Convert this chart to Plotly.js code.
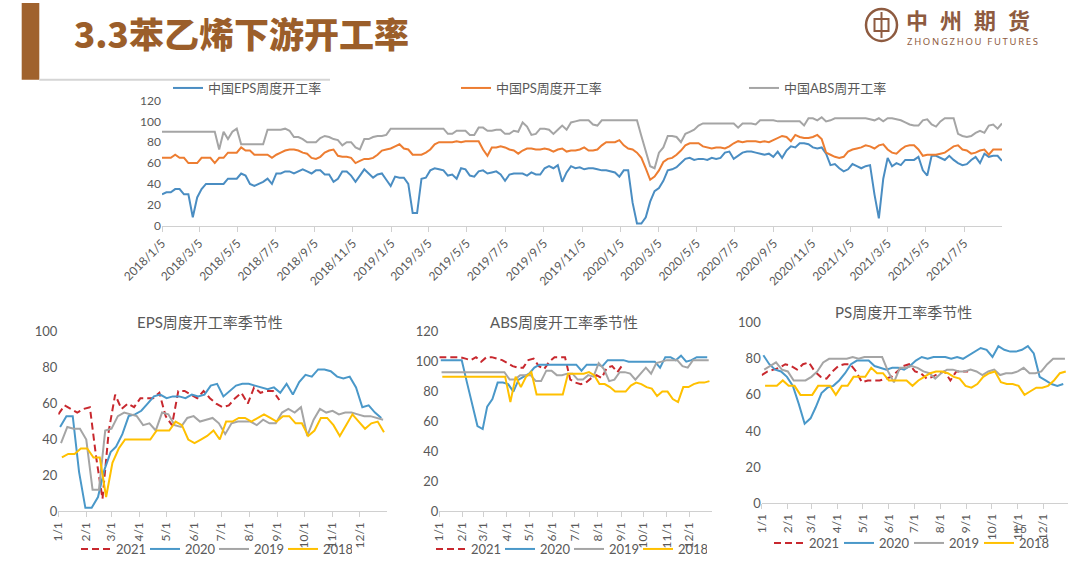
<!DOCTYPE html>
<html><head><meta charset="utf-8">
<script src="https://cdn.plot.ly/plotly-3.0.1.min.js"></script>
<style>html,body{margin:0;padding:0;background:#fff;}#chart{width:1080px;height:564px;}</style>
</head><body><div id="chart"></div>
<script>
// ---- data (weekly) ----
const eps2018 = [30,32,32,35,35,30,30,8,27,35, 40,40,40,40,40,45,45,45,50,48, 40,38,40,42,45,40,50,50,52,52, 50,52,54,52,50,53,53,49,49,42, 45,52,52,48,42,48,54,50,46,49, 50,44];
const eps2019 = [38,47,46,46,40,12,12,45,46,53, 55,54,53,48,49,45,55,54,48,47, 52,53,50,51,52,49,43,49,50,50, 50,48,51,49,49,55,57,55,58,42, 51,57,55,56,54,55,55,54,53,53, 52,51];
const eps2020 = [47,53,53,22,2,2,8,23,33,36, 43,53,54,56,60,64,65,63,64,64, 63,65,64,65,70,71,64,67,70,71, 71,70,69,68,69,66,71,65,72,76, 75,79,79,78,75,74,75,69,58,59, 55,52];
const eps2021 = [54,59,57,55,57,58,30,7,45,65, 57,60,58,63,63,63,66,53,48,67, 67,65,63,67,63,60,58,59,63,66, 60,69,66,67,67,62];

const abs2018 = [90,90,90,90,90,90,90,90,90,90, 90,90,90,73,90,83,90,93,78,78, 78,78,78,78,92,92,92,92,93,91, 85,85,83,80,80,80,84,86,85,83, 82,77,80,80,75,73,83,83,85,86, 86,87];
const abs2019 = [93,93,93,93,93,93,93,93,93,93, 93,93,93,88,88,91,91,91,87,87, 94,94,91,91,92,92,88,88,91,90, 99,95,87,88,93,93,92,88,92,96, 92,99,100,101,101,101,97,96,101,101, 101,101];
const abs2020 = [101,101,101,101,101,86,71,57,55,70, 75,86,86,85,80,88,90,92,96,98, 98,98,98,98,98,98,98,94,98,98, 98,97,101,101,101,101,100,100,100,100, 100,100,96,103,103,101,104,100,101,103, 103,103];
const abs2021 = [103,103,103,103,103,102,101,103,100,103, 103,102,101,99,97,96,96,101,102,97, 95,100,103,103,103,88,86,85,86,89, 91,89,96,97,93,98];

const ps2018 = [65,65,65,68,65,65,60,60,60,65, 65,65,60,65,65,70,70,70,75,72, 72,68,68,68,68,65,68,70,72,73, 73,72,70,69,65,64,66,70,72,73, 67,66,66,65,60,62,64,64,65,68, 72,73];
const ps2019 = [74,76,78,74,73,68,68,68,70,73, 78,80,80,80,80,81,80,81,81,81, 81,73,67,75,75,76,75,73,72,69, 72,74,74,73,73,74,73,71,73,74, 71,72,72,73,75,72,72,73,77,80, 80,80];
const ps2020 = [82,77,74,73,70,65,55,44,47,53, 61,64,65,68,72,77,79,79,79,76, 75,74,75,75,74,76,79,81,80,81, 81,81,80,81,80,82,84,86,85,81, 87,85,84,84,85,87,83,70,68,66, 65,66];
const ps2021 = [71,73,74,75,77,76,74,77,78,73, 70,69,73,76,77,77,73,67,68,68, 68,69,70,73,76,77,73,72,69,70, 72,73,68,73,73,73];

const years = ['2021','2020','2019','2018'];
const firstWeek = {'2018':'2018-01-05','2019':'2019-01-04','2020':'2020-01-03','2021':'2021-01-01'};
const topTickLabels = ['2018/1/5','2018/3/5','2018/5/5','2018/7/5','2018/9/5','2018/11/5',
  '2019/1/5','2019/3/5','2019/5/5','2019/7/5','2019/9/5','2019/11/5',
  '2020/1/5','2020/3/5','2020/5/5','2020/7/5','2020/9/5','2020/11/5',
  '2021/1/5','2021/3/5','2021/5/5','2021/7/5'];
const seasonTickLabels = ['1/1','2/1','3/1','4/1','5/1','6/1','7/1','8/1','9/1','10/1','11/1','12/1'];
const topNames = ['中国EPS周度开工率','中国PS周度开工率','中国ABS周开工率'];
const seasonTitles = ['EPS周度开工率季节性','ABS周度开工率季节性','PS周度开工率季节性'];

// ---- helpers ----
function weekly(start, n){
  const t0 = Date.parse(start + 'T00:00:00Z');
  return Array.from({length:n}, (_, i) => new Date(t0 + i*7*864e5).toISOString().slice(0,10));
}
function pad(n){ return String(n).padStart(2,'0'); }
function labelToISO(lbl){ const p = lbl.split('/'); return p[0] + '-' + pad(p[1]) + '-' + pad(p[2]); }
function seasonISO(lbl){ const p = lbl.split('/'); return '2021-' + pad(p[0]) + '-' + pad(p[1]); }
const W = 1080, H = 564;
const px = x => x / W, py = y => 1 - y / H;

const data = {
  eps: {'2018':eps2018,'2019':eps2019,'2020':eps2020,'2021':eps2021},
  abs: {'2018':abs2018,'2019':abs2019,'2020':abs2020,'2021':abs2021},
  ps:  {'2018':ps2018,'2019':ps2019,'2020':ps2020,'2021':ps2021}
};
function concatDates(prod){ return ['2018','2019','2020','2021'].flatMap(y => weekly(firstWeek[y], data[prod][y].length)); }
function concatVals(prod){ return ['2018','2019','2020','2021'].flatMap(y => data[prod][y]); }

const FONT = "Lato, 'Noto Sans CJK SC', sans-serif";
const TXT = '#595959';
const topColors = {eps:'#4A8DC2', ps:'#ED7D31', abs:'#A5A5A5'};
const yearStyle = {
  '2021': {color:'#C8282E', width:2, dash:'7px,4px'},
  '2020': {color:'#4A98C9', width:2},
  '2019': {color:'#A5A5A5', width:2},
  '2018': {color:'#FFC000', width:2}
};

const traces = [];
[['eps',0],['ps',1],['abs',2]].forEach(([prod, k]) => {
  traces.push({type:'scatter', mode:'lines', x:concatDates(prod), y:concatVals(prod), name:topNames[k],
    xaxis:'x', yaxis:'y', legend:'legend', line:{color:topColors[prod], width:2}, hoverinfo:'skip'});
});
[['eps','x2','y2','legend2'],['abs','x3','y3','legend3'],['ps','x4','y4','legend4']].forEach(([prod, xa, ya, lg]) => {
  years.forEach(y => {
    const dates = weekly(firstWeek[y], data[prod][y].length).map(d => '2021' + d.slice(4));
    traces.push({type:'scatter', mode:'lines', x:dates, y:data[prod][y], name:y, xaxis:xa, yaxis:ya,
      legend:lg, line:yearStyle[y], hoverinfo:'skip'});
  });
});

const seasonTickVals = seasonTickLabels.map(seasonISO);
function seasonX(d0, d1){
  return {domain:[px(d0), px(d1)], type:'date', range:['2021-01-01','2021-12-31'], tickmode:'array',
    tickvals:seasonTickVals, ticktext:seasonTickLabels, tickangle:-90, ticks:'outside', ticklen:5,
    tickcolor:'#D0D0D0', showline:true, linecolor:'#D0D0D0', linewidth:1, showgrid:false, zeroline:false,
    tickfont:{family:FONT, size:12, color:TXT}};
}
function seasonY(y0, y1, top){
  return {domain:[py(y0), py(y1)], range:[0, top], tickmode:'linear', tick0:0, dtick:20, showgrid:false,
    zeroline:false, showline:false, ticks:'', tickfont:{family:FONT, size:13, color:TXT}};
}
function legendAt(x, y, size, ew){
  return {x:px(x), y:py(y), xanchor:'left', yanchor:'middle', orientation:'h', bgcolor:'rgba(0,0,0,0)',
    borderwidth:0, itemwidth:30, entrywidth:ew, entrywidthmode:'pixels', font:{family:FONT, size:size, color:TXT},
    itemclick:false, itemdoubleclick:false};
}

const brown = '#9B5E2A', logoBrown = '#8E5B40';
const layout = {
  width:W, height:H, margin:{l:0,r:0,t:0,b:0}, paper_bgcolor:'#fff', plot_bgcolor:'rgba(0,0,0,0)',
  font:{family:FONT, color:TXT},
  xaxis:{domain:[px(162), px(1002)], anchor:'y', type:'date', range:['2018-01-05','2021-09-03'], tickmode:'array',
    tickvals:topTickLabels.map(labelToISO), ticktext:topTickLabels, tickangle:-45, ticks:'outside', ticklen:5,
    tickcolor:'#D0D0D0', showline:true, linecolor:'#D0D0D0', linewidth:1, showgrid:false, zeroline:false,
    tickfont:{family:FONT, size:12, color:TXT}},
  yaxis:{domain:[py(226), py(100.7)], anchor:'x', range:[0,120], tickmode:'linear', tick0:0, dtick:20,
    showgrid:false, zeroline:false, showline:false, ticks:'', tickfont:{family:FONT, size:12, color:TXT}},
  xaxis2:Object.assign(seasonX(58.3, 386.7), {anchor:'y2'}),
  yaxis2:Object.assign(seasonY(512.3, 332.3, 100), {anchor:'x2'}),
  xaxis3:Object.assign(seasonX(439.3, 711.7), {anchor:'y3'}),
  yaxis3:Object.assign(seasonY(512.3, 332.3, 120), {anchor:'x3'}),
  xaxis4:Object.assign(seasonX(761.7, 1068.3), {anchor:'y4'}),
  yaxis4:Object.assign(seasonY(504, 323.3, 100), {anchor:'x4'}),
  legend:legendAt(168, 88, 13, 243),
  legend2:legendAt(76, 550, 13, 24),
  legend3:legendAt(431, 550, 13, 24),
  legend4:legendAt(769, 543, 13, 25),
  shapes:[
    {type:'rect', xref:'paper', yref:'paper', x0:px(21.7), x1:px(39.3), y0:py(3), y1:py(80), fillcolor:'#A0622D', line:{width:0}},
    {type:'line', xref:'paper', yref:'paper', x0:px(39.3), x1:px(330), y0:py(80), y1:py(80), line:{color:'#D5D5D5', width:2}},
    {type:'circle', xref:'paper', yref:'paper', x0:px(866), x1:px(897), y0:py(41), y1:py(9), line:{color:logoBrown, width:2.5}},
    {type:'rect', xref:'paper', yref:'paper', x0:px(874.5), x1:px(888.5), y0:py(31), y1:py(19), line:{color:logoBrown, width:2}},
    {type:'line', xref:'paper', yref:'paper', x0:px(881.5), x1:px(881.5), y0:py(38), y1:py(12), line:{color:logoBrown, width:2}}
  ],
  annotations:[
    {xref:'paper', yref:'paper', x:px(72), y:py(33), xanchor:'left', yanchor:'middle', showarrow:false,
      text:'3.3苯乙烯下游开工率', font:{family:"'Noto Sans CJK SC', sans-serif", size:35, weight:900, color:brown}},
    {xref:'paper', yref:'paper', x:px(904), y:py(19), xanchor:'left', yanchor:'middle', showarrow:false,
      text:'<span style="letter-spacing:12px">中州期货</span>', font:{family:"'Noto Sans CJK SC', sans-serif", size:22, weight:700, color:logoBrown}},
    {xref:'paper', yref:'paper', x:px(905), y:py(42), xanchor:'left', yanchor:'middle', showarrow:false,
      text:'<span style="letter-spacing:1.7px">ZHONGZHOU FUTURES</span>', font:{family:"'Noto Sans', sans-serif", size:9.5, color:logoBrown}},
    {xref:'paper', yref:'paper', x:px(210), y:py(323), xanchor:'center', yanchor:'middle', showarrow:false,
      text:seasonTitles[0], font:{family:FONT, size:15, color:TXT}},
    {xref:'paper', yref:'paper', x:px(564), y:py(323), xanchor:'center', yanchor:'middle', showarrow:false,
      text:seasonTitles[1], font:{family:FONT, size:15, color:TXT}},
    {xref:'paper', yref:'paper', x:px(903), y:py(313), xanchor:'center', yanchor:'middle', showarrow:false,
      text:seasonTitles[2], font:{family:FONT, size:15, color:TXT}},
    {xref:'paper', yref:'paper', x:px(1020), y:py(529), xanchor:'center', yanchor:'middle', showarrow:false,
      text:'15', font:{family:FONT, size:12, color:'#666'}}
  ]
};

Plotly.newPlot('chart', traces, layout, {staticPlot:true, displayModeBar:false});
</script>
</body></html>
